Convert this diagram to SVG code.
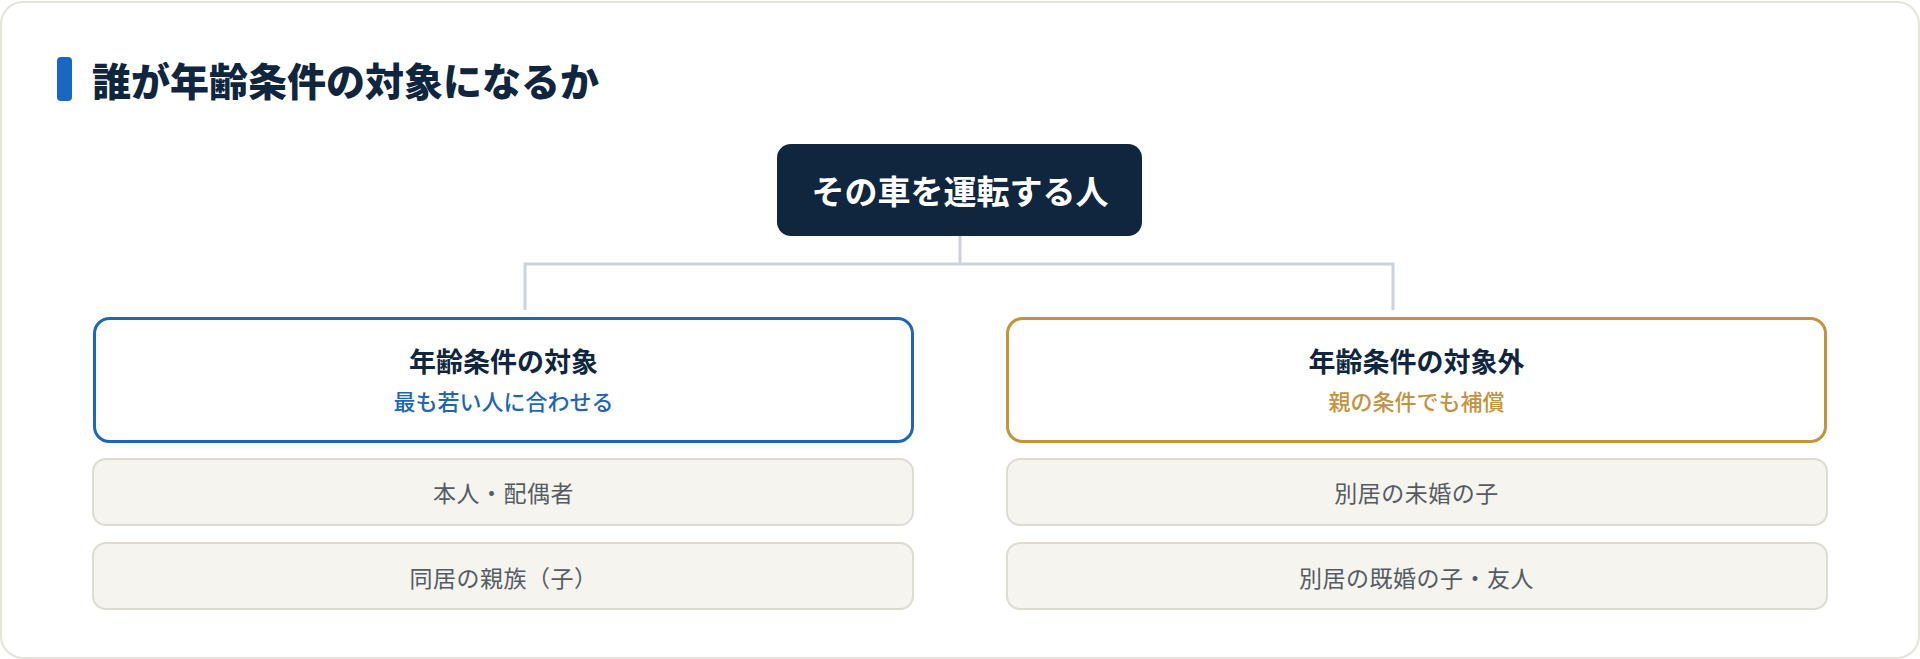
<svg xmlns="http://www.w3.org/2000/svg" width="1920" height="659" viewBox="0 0 1920 659">
  <style>
    text { font-family: "Noto Sans CJK JP", "Noto Sans", sans-serif; text-anchor: middle; }
    .heading { font-size: 39px; font-weight: 900; fill: #10263F; text-anchor: start; }
    .root-label { font-size: 33px; font-weight: 700; fill: #FFFFFF; }
    .cat-title { font-size: 27px; font-weight: 700; fill: #10263F; }
    .sub-blue { font-size: 22px; font-weight: 500; fill: #1E66B8; }
    .sub-gold { font-size: 22px; font-weight: 500; fill: #C4933F; }
    .item-box { fill: #F6F4EF; stroke: #DEDBD1; stroke-width: 2; }
    .item-label { font-size: 23px; font-weight: 400; fill: #555B63; letter-spacing: 0.5px; }
    .conn { fill: none; stroke: #CBD2DB; stroke-width: 3; }
  </style>

  <rect id="card" x="1" y="2" width="1918" height="656" rx="22" fill="#FFFFFF" stroke="#E6E3DA" stroke-width="2"/>

  <g id="heading">
    <rect x="57" y="57" width="15" height="44" rx="4" fill="#1A66C4"/>
    <text class="heading" x="92" y="96">誰が年齢条件の対象になるか</text>
  </g>

  <g id="connectors">
    <path class="conn" d="M960 236 V264 M525 310 V264 H1393 V310"/>
  </g>

  <g id="root">
    <rect x="777" y="144" width="365" height="92" rx="14" fill="#10263F"/>
    <text class="root-label" x="960" y="204">その車を運転する人</text>
  </g>

  <g id="target">
    <rect x="94.5" y="318.5" width="818" height="123" rx="15" fill="#FFFFFF" stroke="#1E66B8" stroke-width="3"/>
    <text class="cat-title" x="503.5" y="372">年齢条件の対象</text>
    <text class="sub-blue" x="503.5" y="410">最も若い人に合わせる</text>
  </g>

  <g id="target-item-1">
    <rect class="item-box" x="93" y="459" width="820" height="66" rx="13"/>
    <text class="item-label" x="503.5" y="502">本人・配偶者</text>
  </g>

  <g id="target-item-2">
    <rect class="item-box" x="93" y="543" width="820" height="66" rx="13"/>
    <text class="item-label" x="503.5" y="587">同居の親族（子）</text>
  </g>

  <g id="excluded">
    <rect x="1007.5" y="318.5" width="818" height="123" rx="15" fill="#FFFFFF" stroke="#C4933F" stroke-width="3"/>
    <text class="cat-title" x="1416.5" y="372">年齢条件の対象外</text>
    <text class="sub-gold" x="1416.5" y="410">親の条件でも補償</text>
  </g>

  <g id="excluded-item-1">
    <rect class="item-box" x="1007" y="459" width="820" height="66" rx="13"/>
    <text class="item-label" x="1416.5" y="502">別居の未婚の子</text>
  </g>

  <g id="excluded-item-2">
    <rect class="item-box" x="1007" y="543" width="820" height="66" rx="13"/>
    <text class="item-label" x="1416.5" y="587">別居の既婚の子・友人</text>
  </g>
</svg>
